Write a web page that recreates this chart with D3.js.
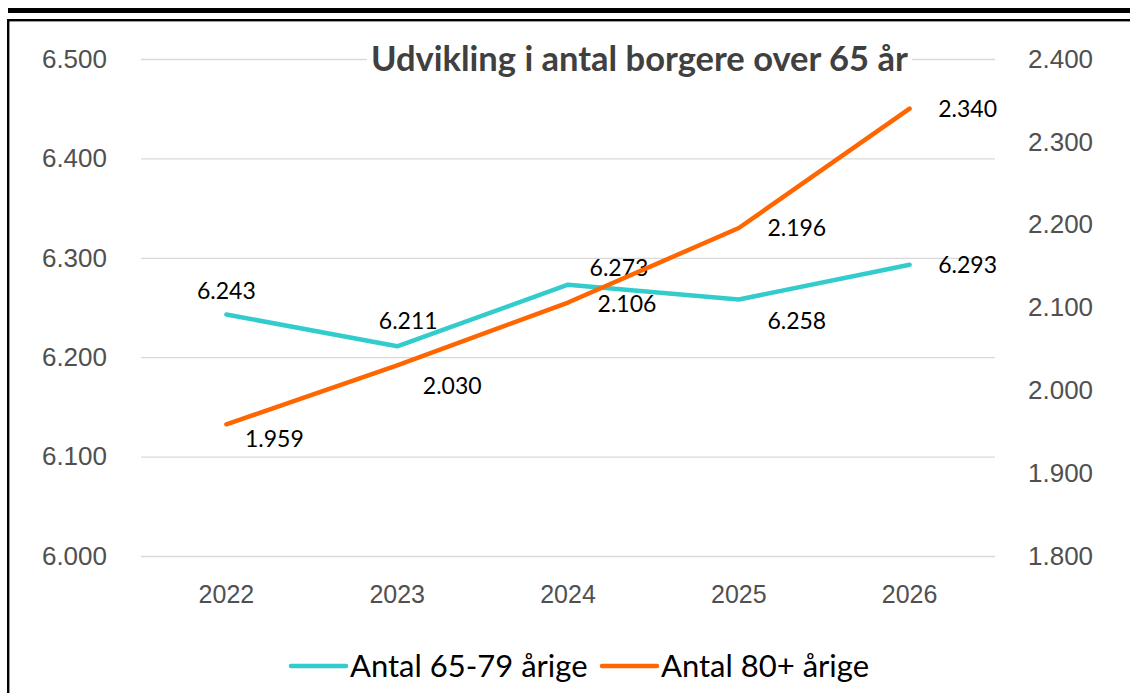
<!DOCTYPE html>
<meta charset="utf-8">
<head>
<style>
body { margin: 0; background: #fff; }
svg { display: block; font-family: Lato, "Open Sans", sans-serif; }
.tick text { fill: #505050; }
.lbl { font-size: 23px; fill: #000; }
</style>
</head>
<body>
<div id="chart"></div>
<script src="https://cdn.jsdelivr.net/npm/d3@7"></script>
<script>

// data
var years = ["2022", "2023", "2024", "2025", "2026"];
var antal6579 = [6243, 6211, 6273, 6258, 6293];
var antal80 = [1959, 2030, 2106, 2196, 2340];
var leftTicks = [6000, 6100, 6200, 6300, 6400, 6500];
var rightTicks = [1800, 1900, 2000, 2100, 2200, 2300, 2400];
var seriesNames = ["Antal 65-79 årige", "Antal 80+ årige"];
var seriesColors = ["#33CCCC", "#FF6600"];

// label placement (pixels from the point), like the excel labels
var offs6579 = [[0, -24], [11, -25], [51, -17], [58, 21], [58, 0]];
var offs80 = [[48, 15], [55, 20], [59, 1], [58, 0], [58, 0]];

var W = 1130, H = 693;
var plot = {left: 141, right: 995, top: 59, bottom: 556};

var svg = d3.select("#chart").append("svg")
    .attr("width", W)
    .attr("height", H);

// frame lines around the cell
svg.append("rect").attr("x", 8).attr("y", 8).attr("width", W - 8).attr("height", 5).attr("fill", "#000");
svg.append("rect").attr("x", 7).attr("y", 19).attr("width", W - 7).attr("height", 2.4).attr("fill", "#000");
svg.append("rect").attr("x", 7).attr("y", 19).attr("width", 2.4).attr("height", H - 19).attr("fill", "#000");

var dk = d3.formatLocale({decimal: ",", thousands: ".", grouping: [3], currency: ["", " kr"]});
var fmt = dk.format(",d");

var x = d3.scaleBand()
    .domain(years)
    .range([plot.left, plot.right]);
var cx = function(d) { return x(d) + x.bandwidth() / 2; };

var yL = d3.scaleLinear().domain([6000, 6500]).range([plot.bottom, plot.top]);
var yR = d3.scaleLinear().domain([1800, 2400]).range([plot.bottom, plot.top]);

// left axis + gridlines
var gL = svg.append("g")
    .attr("transform", "translate(" + plot.left + ",0)")
    .call(d3.axisLeft(yL).tickValues(leftTicks).tickFormat(fmt)
      .tickSize(-(plot.right - plot.left)).tickPadding(34));
gL.select(".domain").remove();
gL.selectAll(".tick line").attr("stroke", "#d9d9d9").attr("stroke-width", 1.3);
gL.selectAll(".tick text").style("font-size", "26px");

// right axis
var gR = svg.append("g")
    .attr("transform", "translate(" + plot.right + ",0)")
    .call(d3.axisRight(yR).tickValues(rightTicks).tickFormat(fmt).tickSize(0).tickPadding(33));
gR.select(".domain").remove();
gR.selectAll(".tick text").style("font-size", "26px");

// x axis
var gX = svg.append("g")
    .attr("transform", "translate(0," + plot.bottom + ")")
    .call(d3.axisBottom(x).tickSize(0).tickPadding(29));
gX.select(".domain").remove();
gX.selectAll(".tick text").style("font-size", "25px");

// title with white box behind it
var titleG = svg.append("g");
var title = titleG.append("text")
    .attr("x", 371)
    .attr("y", 71)
    .style("font-size", "34.5px")
    .style("font-weight", "bold")
    .style("fill", "#404040")
    .text("Udvikling i antal borgere over 65 år");
var bb = title.node().getBBox();
titleG.insert("rect", "text")
    .attr("x", bb.x - 4).attr("y", bb.y)
    .attr("width", bb.width + 8).attr("height", bb.height)
    .attr("fill", "#fff");

// lines
var series = [
  {vals: antal6579, y: yL, offs: offs6579},
  {vals: antal80, y: yR, offs: offs80}
];

series.forEach(function(s, i) {
  var pts = years.map(function(yr, j) { return {yr: yr, v: s.vals[j], o: s.offs[j]}; });
  var line = d3.line()
      .x(function(d) { return cx(d.yr); })
      .y(function(d) { return s.y(d.v); });
  svg.append("path")
      .datum(pts)
      .attr("d", line)
      .attr("fill", "none")
      .attr("stroke", seriesColors[i])
      .attr("stroke-width", 4.5)
      .attr("stroke-linecap", "round")
      .attr("stroke-linejoin", "round");

  svg.append("g").selectAll("text")
    .data(pts)
    .enter()
    .append("text")
      .attr("class", "lbl")
      .attr("x", function(d) { return cx(d.yr) + d.o[0]; })
      .attr("y", function(d) { return s.y(d.v) + d.o[1]; })
      .attr("dy", "0.35em")
      .attr("text-anchor", "middle")
      .text(function(d) { return fmt(d.v); });
});

// legend
var legX = [291, 602];
var leg = svg.selectAll(".legend")
    .data(seriesNames)
    .enter()
    .append("g")
    .attr("class", "legend")
    .attr("transform", function(d, i) { return "translate(" + legX[i] + ",666)"; });
leg.append("line")
    .attr("x1", 0).attr("x2", 55)
    .attr("stroke", function(d, i) { return seriesColors[i]; })
    .attr("stroke-width", 4.5)
    .attr("stroke-linecap", "round");
leg.append("text")
    .attr("x", 59)
    .attr("y", 0)
    .attr("dy", "0.35em")
    .style("font-size", "31px")
    .style("fill", "#000")
    .text(function(d) { return d; });

</script>
</body>
